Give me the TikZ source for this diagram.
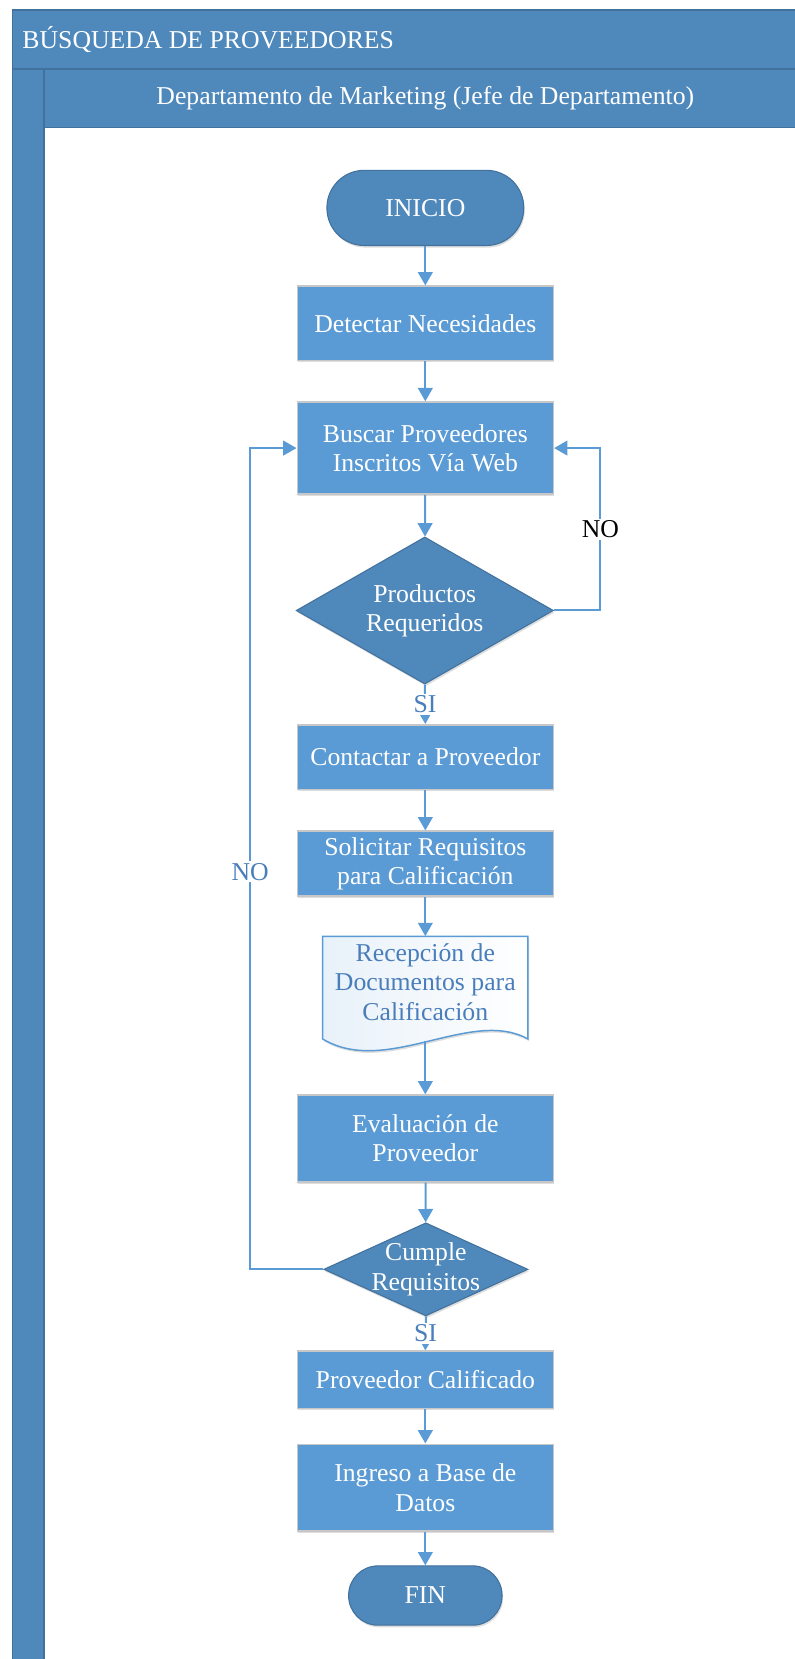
\documentclass[tikz,border=0pt]{standalone}
\usepackage{fontspec}
\setmainfont{Liberation Serif}
\usetikzlibrary{shapes.geometric,arrows.meta,shadows}

\definecolor{banda}{RGB}{79,136,187}
\definecolor{bordeoscuro}{RGB}{65,113,156}
\definecolor{caja}{RGB}{91,155,213}
\definecolor{azulflecha}{RGB}{91,155,213}
\definecolor{azultexto}{RGB}{74,126,187}

\tikzset{
	letra/.style={font=\fontsize{19.3}{22}\selectfont},
	sombra/.style={drop shadow={shadow xshift=0.8pt,shadow yshift=-1.6pt,opacity=0.22,fill=black!60}},
	proceso/.style={letra, rectangle, fill=caja, draw=black!22, line width=1.1pt, text=white, align=center, minimum width=192.2pt, inner sep=2pt, sombra},
	terminal/.style={letra, rectangle, rounded corners=#1, fill=banda, draw=bordeoscuro, line width=0.8pt, text=white, align=center, inner sep=2pt, sombra},
	decision/.style={letra, diamond, aspect=2, fill=banda, draw=bordeoscuro, line width=0.8pt, text=white, align=center, inner sep=-8pt, sombra},
	flecha/.style={draw=azulflecha, line width=1.5pt, -{Triangle[width=11pt,length=10pt]}},
	etiqueta/.style={letra, fill=white, inner sep=1.5pt, text=azultexto}
}

\begin{document}
\begin{tikzpicture}[x=0.794pt,y=-0.794pt]
	\useasboundingbox (0,0) rectangle (751,1568);
	
	% marco del diagrama
	\fill[banda] (11.7,9.4) rectangle (751,65);
	\fill[banda] (11.7,65) rectangle (41.6,1568);
	\fill[banda] (41.6,65) rectangle (751,120.6);
	\draw[bordeoscuro,line width=1.2pt] (751,9.4) -- (11.7,9.4) -- (11.7,1568);
	\draw[bordeoscuro,line width=1.2pt] (11.7,65) -- (751,65);
	\draw[bordeoscuro,line width=1.2pt] (41.6,65) -- (41.6,1568);
	\draw[bordeoscuro,line width=1.2pt] (41.6,120.6) -- (751,120.6);
	
	\node[letra, text=white, anchor=west, inner sep=0pt] (titulo) at (21,37.8) {BÚSQUEDA DE PROVEEDORES};
	\node[letra, text=white, inner sep=0pt] (carril) at (402,93) {Departamento de Marketing (Jefe de Departamento)};
	
	% nodos
	\node[terminal=28pt, minimum width=147.7pt, minimum height=56.4pt] (inicio) at (402,196.5) {INICIO};
	\node[proceso, minimum height=55.6pt] (detectar) at (402,305.5) {Detectar Necesidades};
	\node[proceso, minimum height=69.1pt] (buscar) at (402,423.5) {Buscar Proveedores\\Inscritos Vía Web};
	\node[decision, minimum width=193pt, minimum height=110.4pt] (productos) at (401.5,577) {Productos\\Requeridos};
	\node[proceso, minimum height=48.4pt] (contactar) at (402,715.5) {Contactar a Proveedor};
	\node[proceso, minimum height=48.8pt] (solicitar) at (402,816.3) {Solicitar Requisitos\\para Calificación};
	
	% documento con borde ondulado
	\path[draw=azulflecha, line width=1.1pt, left color=caja!14, right color=white, sombra]
		(305,885) -- (499,885) -- (499,982)
		.. controls (445,952) and (365,1018) .. (305,982) -- cycle;
	\node[letra, text=azultexto, align=center, minimum width=154pt, minimum height=68.3pt, inner sep=0pt] (documento) at (402,928) {Recepción de\\Documentos para\\Calificación};
	
	\node[proceso, minimum height=65.1pt] (evaluacion) at (402,1076) {Evaluación de\\Proveedor};
	\node[decision, minimum width=153.2pt, minimum height=69.9pt] (cumple) at (402.5,1199.7) {Cumple\\Requisitos};
	\node[proceso, minimum height=42.9pt] (calificado) at (402,1304) {Proveedor Calificado};
	\node[proceso, minimum height=65.1pt] (ingreso) at (402,1406) {Ingreso a Base de\\Datos};
	\node[terminal=22pt, minimum width=115.1pt, minimum height=44.5pt] (fin) at (402,1508) {FIN};
	
	% conectores
	\draw[flecha] (inicio) -- (detectar);
	\draw[flecha] (detectar) -- (buscar);
	\draw[flecha] (buscar) -- (productos);
	\draw[flecha] (productos.east) -- ++(44,0) |- node[pos=0.25, etiqueta, text=black]{NO} (buscar.east);
	\draw[flecha] (productos.south) -- node[etiqueta]{SI} (contactar.north);
	\draw[flecha] (contactar) -- (solicitar);
	\draw[flecha] (solicitar.south) -- (documento.north);
	\draw[flecha] ([shift={(0,13)}]documento.south) -- (evaluacion.north);
	\draw[flecha] (evaluacion) -- (cumple);
	\draw[flecha] (cumple.west) -- ++(-69,0) |- node[pos=0.242, etiqueta]{NO} (buscar.west);
	\draw[flecha] (cumple.south) -- node[etiqueta]{SI} (calificado.north);
	\draw[flecha] (calificado) -- (ingreso);
	\draw[flecha] (ingreso) -- (fin);
\end{tikzpicture}
\end{document}
